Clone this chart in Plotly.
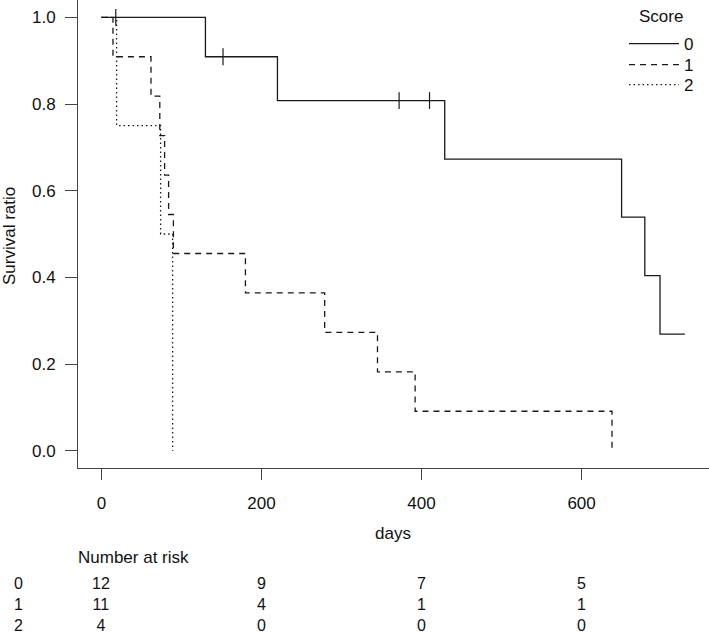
import plotly.graph_objects as go

# ---- data ----
groups = ["0", "1", "2"]
days_0 = [0, 130, 220, 429, 650, 679, 698, 729]
surv_0 = [1.0, 0.909, 0.808, 0.673, 0.539, 0.404, 0.269, 0.269]
days_1 = [0, 14.5, 62, 73, 79, 84, 90, 180, 279, 345, 392, 638]
surv_1 = [1.0, 0.909, 0.818, 0.727, 0.636, 0.545, 0.455, 0.364, 0.273, 0.182, 0.091, 0.0]
days_2 = [0, 19, 74, 89]
surv_2 = [1.0, 0.75, 0.5, 0.0]
censor_days_0 = [18, 152, 372, 410]
censor_surv_0 = [1.0, 0.909, 0.808, 0.808]

risk_times = [0, 200, 400, 600]
risk_0 = [12, 9, 7, 5]
risk_1 = [11, 4, 1, 1]
risk_2 = [4, 0, 0, 0]

x_ticks = [0, 200, 400, 600]
y_ticks = [0.0, 0.2, 0.4, 0.6, 0.8, 1.0]
y_ticklabels = ["0.0", "0.2", "0.4", "0.6", "0.8", "1.0"]

FONT = "Liberation Sans, Arial, sans-serif"
FS = 17
TFS = 16
LINE_COL = "#1a1a1a"
AX_COL = "#444444"

H = 468.0
def py(p):
    return (H - p) / H

def px(p):
    return (p - 78) / 631.0

fig = go.Figure()
styles = {"0": "solid", "1": "6px,5px", "2": "1.5px,3px"}
legend_ids = {"0": "legend", "1": "legend2", "2": "legend3"}
for g, xs, ys in [("0", days_0, surv_0), ("1", days_1, surv_1), ("2", days_2, surv_2)]:
    fig.add_trace(go.Scatter(x=xs, y=ys, mode="lines", name=g, line_shape="hv",
                             legend=legend_ids[g],
                             line=dict(color=LINE_COL, width=1.3, dash=styles[g])))

fig.add_trace(go.Scatter(x=censor_days_0, y=censor_surv_0, mode="markers", showlegend=False,
                         marker=dict(symbol="line-ns", size=12, line=dict(color=LINE_COL, width=1.2))))

ann = []
ann.append(dict(text="Survival ratio", x=px(9), xref="paper", y=py(236), yref="paper", showarrow=False,
                textangle=-90, font=dict(size=FS), xanchor="center", yanchor="middle"))
ann.append(dict(text="days", x=px(393), xref="paper", y=py(533), yref="paper",
                showarrow=False, font=dict(size=FS), xanchor="center", yanchor="middle"))
ann.append(dict(text="Number at risk", x=px(76), xref="paper", y=py(557), yref="paper",
                showarrow=False, font=dict(size=FS), xanchor="left", yanchor="middle"))
ann.append(dict(text="Score", x=px(661), xref="paper", y=py(17), yref="paper",
                showarrow=False, font=dict(size=FS), xanchor="center", yanchor="middle"))

# risk table: one multi-line annotation per column
TABLE_Y = 604
ann.append(dict(text="<br>".join(groups), x=px(18), xref="paper", y=py(TABLE_Y), yref="paper",
                showarrow=False, font=dict(size=TFS), xanchor="center", yanchor="middle", align="center"))
for i, t in enumerate(risk_times):
    col = "<br>".join(str(r[i]) for r in [risk_0, risk_1, risk_2])
    ann.append(dict(text=col, x=t, xref="x", y=py(TABLE_Y), yref="paper",
                    showarrow=False, font=dict(size=TFS), xanchor="center", yanchor="middle",
                    align="center"))

def leg(top):
    return dict(x=px(624), xanchor="left", y=py(top), yanchor="top", bgcolor="rgba(0,0,0,0)",
                font=dict(size=FS), itemwidth=50)

fig.update_layout(
    width=709, height=633,
    margin=dict(l=78, r=0, t=0, b=165),
    paper_bgcolor="white", plot_bgcolor="white",
    font=dict(family=FONT, size=FS, color="#111111"),
    annotations=ann,
    legend=leg(26), legend2=leg(47), legend3=leg(67),
    xaxis=dict(range=[-29.2, 759.2], tickvals=x_ticks, showgrid=False, zeroline=False,
               showline=True, linecolor=AX_COL, linewidth=1, ticks="outside", ticklen=11,
               tickcolor=AX_COL, tickwidth=1, ticklabelstandoff=9),
    yaxis=dict(range=[-0.04, 1.04], tickvals=y_ticks, ticktext=y_ticklabels, showgrid=False,
               zeroline=False, showline=True, linecolor=AX_COL, linewidth=1, ticks="outside",
               ticklen=12, tickcolor=AX_COL, tickwidth=1, ticklabelstandoff=6),
)
fig.write_html("out.html", config={"displayModeBar": False},
               post_script="document.body.style.margin='0px';document.body.style.overflow='hidden';")
